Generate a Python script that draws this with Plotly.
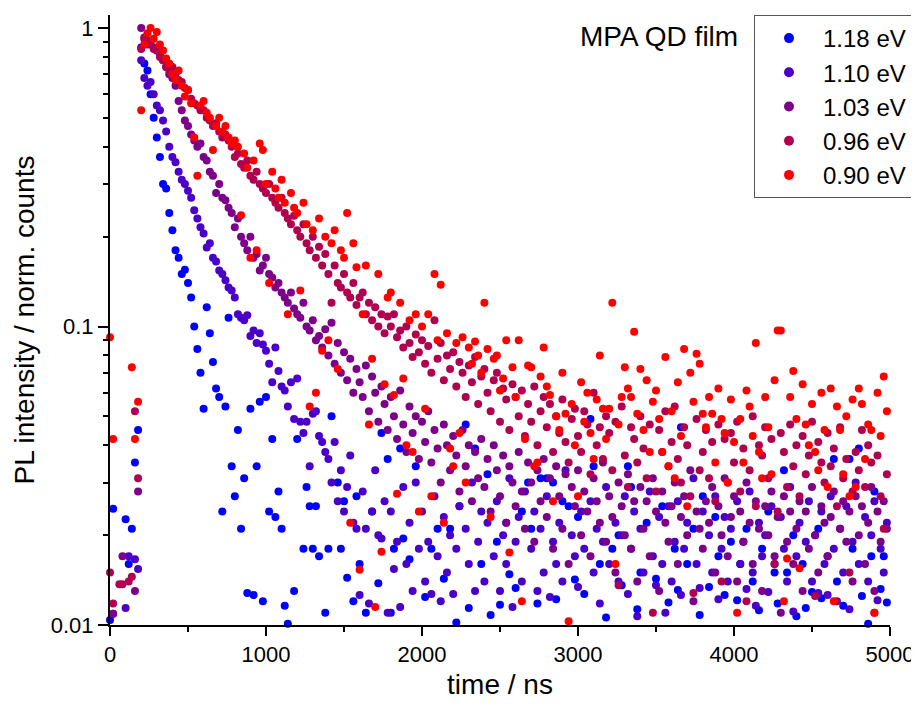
import plotly.graph_objects as go

# TCSPC channel width (ns); every series shares the same time channels
CHANNEL_NS = 20

LABELS = ["1.18 eV", "1.10 eV", "1.03 eV", "0.96 eV", "0.90 eV"]
COLORS = ["#0000ff", "#4a00c8", "#7d008a", "#b00050", "#ff0000"]

# normalized PL counts per channel (None = below 0.01, off the axis)
PL_118 = [
    .0104, .0245, None, None, None, .0226, .016, .021, .035, .045,
    .86, .76, .72, .60, .50, .43, .37, .30, .29, .24,
    .21, .18, .17, .15, .155, .14, .125, .10, .084, .07,
    .053, .116, .095, .076, .062, .058, .024, .054, .107, .034,
    .027, .045, .021, .031, .0128, .053, .0126, .034, .056, .012,
    .058, .024, .042, .023, .028, .021, .0116, .0101, None, .013,
    .042, None, .018, .029, .025, .018, .025, .017, None, .011,
    .018, .05, None, .030, .018, .026, .0144, None, .012, .027,
    .016, None, .011, None, .024, None, .0138, .044, None, .036,
    .011, .018, None, .039, .0195, None, .0166, None, .034, None,
    None, .0124, None, .018, None, .021, None, .0143, None, .021,
    None, .0102, .025, None, .047, .0114, None, .039, None, .016,
    None, .032, .0108, None, .019, .0117, None, .022, .0148, None,
    .0133, None, .024, None, .030, .021, None, .0118, .031, None,
    .031, None, .03, .0122, None, .026, None, .025, None, .0142,
    .023, None, .0127, None, .049, .034, None, .016, None, .0106,
    None, .018, None, .02, .0136, None, .034, .029, None, .0113,
    .015, None, .022, None, None, .0143, None, .025, None, .0119,
    None, .018, .0131, .046, None, .016, None, .021, None, .0108,
    .027, None, .0134, None, .023, .017, None, .0126, None, .019,
    None, .0121, .016, None, .021, None, .014, None, .0112, .018,
    None, .024, None, .015, .0118, None, .033, .015, None, .02,
    .0107, None, .016, .0114, None, .0129, None, .021, .0123, None,
    .017, None, .036, .014, None, .0116, None, .036, .018, None,
    .039, .0125, None, .0101, .017, .028, None, .0132, .017, .0119,
]

PL_110 = [
    None, .0109, None, None, None, .0114, .017, None, .0166, .0154,
    .78, .68, .64, .66, .60, .55, .53, .49, .45, .40,
    .37, .355, .33, .31, .30, .285, .27, .245, .23, .215,
    .205, .184, .19, .17, .165, .154, .15, .143, .135, .132,
    .125, .11, .107, .105, .109, .093, .097, .088, .095, .087,
    .083, .075, .065, .085, .071, .063, .061, .054, .065, .049,
    .067, .048, .044, .048, .034, .051, .052, .043, .041, .038,
    .036, .030, .041, .026, .033, .024, .029, .037, .022, .021,
    .0126, .028, .021, .0118, .024, .033, .020, .0195, .026, .011,
    .024, .0154, .019, .0115, .029, .016, .022, .013, .03, .018,
    .024, .014, .019, .0127, .027, .017, .012, .023, .015, .02,
    .0127, .018, .025, None, .021, .016, .03, .013, .019, .024,
    .014, .022, None, .017, .026, .013, .02, .016, .031, .0115,
    .019, .023, .014, .028, None, .018, .024, .013, .021, .015,
    .027, .0124, .019, .016, .022, .014, .033, None, .02, .017,
    .0134, .024, .018, None, .026, .015, .021, .0118, .019, .029,
    .016, None, .022, .014, .02, .027, .0127, .018, .024, .0107,
    .021, .015, None, .028, .017, .0136, .023, .016, .011, .025,
    .014, .019, .026, .0126, .018, .022, None, .031, .016, .0133,
    .024, None, .02, .015, .027, .0122, .018, .023, .014, .021,
    None, .026, .016, .019, .0132, .028, .015, .0116, .022, .017,
    .02, .0129, .025, .016, None, .023, .018, .014, .029, .0111,
    .017, .022, None, .019, .026, .014, .02, .0128, .024, .016,
    .0126, .027, .018, None, .021, .015, .025, .0113, .019, .03,
    .016, None, .023, .014, .02, .026, .0121, .018, .015, .022,
]

PL_103 = [
    None, .0109, None, None, .017, None, None, None, .013, .028,
    1.0, .92, .88, .90, .86, .84, .82, .78, .74, .70,
    .68, .64, .57, .53, .49, .47, .44, .42, .40, .41,
    .37, .36, .33, .32, .28, .30, .27, .265, .25, .24,
    .215, .23, .20, .19, .18, .2, .17, .175, .154, .16,
    .17, .15, .146, .135, .14, .13, .125, .12, .13, .115,
    .11, .107, .12, .10, .097, .105, .09, .093, .085, .098,
    .08, .103, .075, .088, .07, .082, .066, .078, .06, .072,
    .065, .058, .074, .052, .068, .06, .048, .063, .055, .045,
    .058, .05, .042, .061, .047, .038, .054, .044, .05, .036,
    .048, .041, .052, .035, .045, .039, .03, .047, .04, .033,
    .043, .037, .028, .045, .034, .04, .026, .038, .031, .042,
    .029, .036, .024, .04, .033, .027, .037, .022, .034, .03,
    .025, .038, .028, .021, .035, .03, .019, .033, .026, .036,
    .023, .031, .018, .034, .027, .021, .032, .016, .029, .025,
    .033, .02, .028, .024, .017, .031, .026, .022, .035, .019,
    .027, .023, .015, .03, .025, .02, .032, .018, .026, .014,
    .029, .021, .026, .017, .031, .024, .013, .028, .022, .019,
    .025, .03, .016, .023, .027, .02, .033, .012, .024, .021,
    .018, .026, .022, .029, .015, .025, .02, .031, .017, .023,
    .027, .014, .024, .019, .03, .022, .016, .026, .021, .013,
    .025, .02, .028, .017, .023, .011, .027, .019, .024, .016,
    .021, .026, .013, .024, .018, .029, .02, .015, .025, .022,
    .017, .023, .028, .012, .021, .026, .019, .024, .014, .027,
    .02, .025, .016, .022, .029, .013, .024, .019, .026, .021,
]

PL_096 = [
    .015, .0118, None, .0137, .0137, None, .014, .0145, .052, .031,
    .85, .93, .91, .88, .85, .84, .80, .78, .74, .72,
    .74, .70, .67, .66, .63, .62, .58, .56, .55, .53,
    .53, .50, .49, .47, .48, .45, .43, .44, .42, .40,
    .37, .38, .35, .34, .36, .32, .31, .33, .30, .29,
    .28, .3, .27, .26, .25, .27, .24, .23, .22, .235,
    .21, .2, .22, .19, .18, .2, .17, .185, .16, .175,
    .15, .12, .16, .14, .135, .15, .13, .125, .14, .118,
    .125, .13, .11, .12, .105, .116, .1, .11, .095, .108,
    .1, .11, .092, .097, .085, .1, .088, .079, .094, .082,
    .09, .075, .086, .07, .105, .078, .088, .066, .08, .072,
    .082, .063, .076, .07, .058, .074, .065, .079, .055, .068,
    .072, .06, .052, .066, .07, .048, .062, .057, .045, .064,
    .058, .05, .061, .043, .055, .048, .063, .04, .052, .058,
    .046, .055, .038, .05, .044, .057, .041, .035, .049, .053,
    .043, .038, .052, .047, .032, .06, .04, .046, .036, .05,
    .044, .033, .048, .0136, .054, .037, .029, .046, .042, .035,
    .05, .039, .031, .047, .011, .028, .045, .038, .052, .034,
    .041, .054, .036, .03, .046, .04, .027, .0128, .049, .033,
    .038, .045, .031, .041, .026, .047, .014, .042, .03, .044,
    .035, .048, .028, .039, .012, .033, .05, .025, .04, .037,
    .046, .031, .042, .016, .024, .044, .038, .029, .047, .034,
    .04, .027, .043, .032, .037, .048, .0125, .041, .035, .03,
    .044, .034, .039, .025, .046, .031, .036, .015, .028, .038,
    .033, .045, .029, .04, .035, .011, .037, .027, .021, .032,
]

PL_090 = [
    .092, .042, None, None, None, None, None, .073, .042, .056,
    .53, .88, .96, 1.0, .92, .97, .88, .84, .79, .76,
    .70, .67, .72, .64, .59, .62, .56, .43, .32, .55,
    .57, .52, .5, .39, .47, .5, .45, .47, .43, .41,
    .42, .40, .236, .38, .34, .17, .36, .18, .41, .39,
    .30, .14, .33, .29, .27, .31, .26, .11, .28, .25,
    .24, .132, .26, .22, .054, .21, .06, .23, .083, .2,
    .09, .19, .21, .072, .18, .17, .24, .022, .19, .158,
    .0153, .11, .16, .047, .078, .0115, .15, .0176, .064, .125,
    .13, .059, .0275, .12, .067, .04, .105, .038, .11, .024,
    .1, .053, .11, .027, .15, .09, .138, .022, .095, .039,
    .034, .088, .044, .092, .03, .085, .075, .089, .08, .07,
    .12, .084, .023, .078, .08, .061, .067, .09, .0175, .073,
    .058, .09, .012, .042, .074, .073, .034, .035, .068, .085,
    .063, .059, .026, .05, .045, .07, .051, .0103, .055, .04,
    .027, .065, .048, .06, .044, .036, .057, .08, .053, .042,
    .053, .12, .016, .047, .058, .073, .062, .058, .096, .051,
    .072, .045, .066, .038, .056, .061, .049, .038, .079, .034,
    .052, .031, .065, .043, .084, .025, .07, .056, .081, .075,
    .051, .046, .058, .051, .035, .062, .049, .044, .03, .057,
    .041, .011, .049, .035, .061, .054, .043, .088, .038, .031,
    .058, .046, .032, .066, .097, .097, .012, .0167, .058, .071,
    .049, .0155, .064, .047, .04, .055, .038, .033, .06, .045,
    .029, .062, .012, .054, .045, .032, .05, .027, .057, .029,
    .062, .055, .036, .047, .045, .011, .06, .043, .068, .052,
]

SERIES = [PL_118, PL_110, PL_103, PL_096, PL_090]
for s in SERIES:
    assert len(s) == 250, len(s)

time_ns = [CHANNEL_NS * k for k in range(250)]

FONT = "Arial, Liberation Sans, sans-serif"

# the page body adds an 8 px margin, so the figure is sized to fit inside it
FIG_W, FIG_H = 911, 692

fig = go.Figure()
for label, color, counts in zip(LABELS, COLORS, SERIES):
    fig.add_trace(
        go.Scatter(
            x=time_ns,
            y=counts,
            mode="markers",
            name=label,
            legendgroup=label,
            showlegend=False,
            marker=dict(color=color, size=8, line=dict(width=0)),
            cliponaxis=False,
        )
    )
# legend-only entries, with slightly bigger dots like the reference key
for label, color in zip(LABELS, COLORS):
    fig.add_trace(
        go.Scatter(
            x=[None], y=[None],
            mode="markers",
            name=label,
            legendgroup=label,
            marker=dict(color=color, size=10, line=dict(width=0)),
        )
    )

minor_y = [m * d for d in (0.01, 0.1) for m in range(2, 10)]

fig.update_xaxes(
    range=[0, 5000],
    dtick=1000,
    showline=True, linecolor="black", linewidth=2,
    ticks="outside", ticklen=9, tickwidth=2, tickcolor="black",
    tickfont=dict(size=22),
    minor=dict(dtick=500, ticks="outside", ticklen=5, tickwidth=2,
               tickcolor="black", showgrid=False),
    showgrid=False, zeroline=False,
    title=dict(text="time / ns", font=dict(size=28), standoff=10),
    automargin=False,
)
fig.update_yaxes(
    type="log",
    range=[-2, 0.0436],
    tickvals=[0.01, 0.1, 1],
    ticktext=["0.01", "0.1", "1"],
    showline=True, linecolor="black", linewidth=2,
    ticks="outside", ticklen=10, tickwidth=2, tickcolor="black",
    tickfont=dict(size=22),
    minor=dict(tickvals=minor_y, ticks="outside", ticklen=5, tickwidth=2,
               tickcolor="black", showgrid=False),
    showgrid=False, zeroline=False,
    title=dict(text="PL intensity / norm. counts", font=dict(size=28), standoff=8),
    automargin=False,
)

fig.update_layout(
    width=FIG_W, height=FIG_H,
    margin=dict(l=102, r=29, t=7, b=75, autoexpand=False),
    plot_bgcolor="white", paper_bgcolor="white",
    font=dict(family=FONT, color="black"),
    legend=dict(
        xref="container", yref="container",
        x=904 / FIG_W, xanchor="right", y=1 - 7 / FIG_H, yanchor="top",
        bordercolor="#555555", borderwidth=1, bgcolor="white",
        font=dict(size=24), itemwidth=58, tracegroupgap=0,
    ),
    annotations=[
        dict(text="MPA QD film", xref="paper", yref="paper",
             x=(740 - 110) / 780, y=(625 - 37) / 610,
             xanchor="right", yanchor="middle",
             showarrow=False, font=dict(size=28)),
    ],
)

fig.write_html("out.html")
